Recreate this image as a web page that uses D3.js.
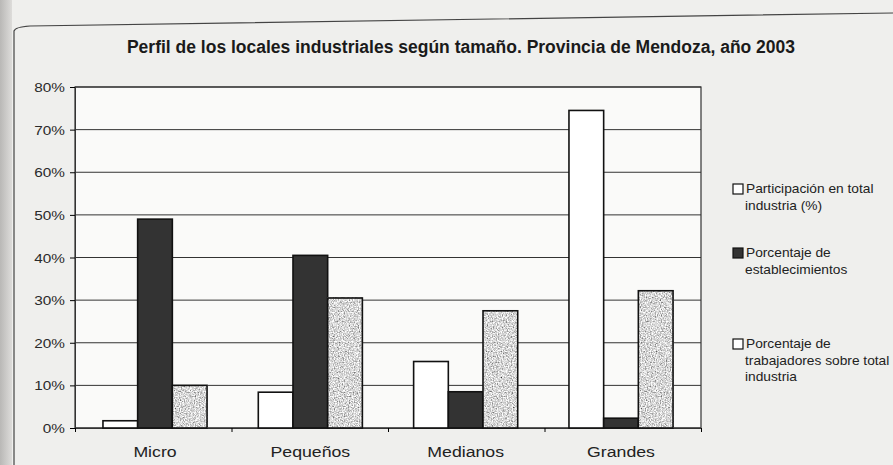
<!DOCTYPE html>
<html>
<head>
<meta charset="utf-8">
<script src="https://cdn.jsdelivr.net/npm/d3@7"></script>
<style>
  body { margin: 0; background: #efefed; }
  svg { display: block; font-family: "Liberation Sans", Arial, sans-serif; }
</style>
</head>
<body>
<div id="chart"></div>
<script>
// values
var categories = ["Micro", "Pequeños", "Medianos", "Grandes"];
var participacion = [1.7, 8.4, 15.6, 74.5];
var establecimientos = [49, 40.5, 8.5, 2.3];
var trabajadores = [10, 30.5, 27.5, 32.2];
var yTicks = [0, 10, 20, 30, 40, 50, 60, 70, 80];
var seriesNames = ["Participación en total|industria (%)", "Porcentaje de|establecimientos", "Porcentaje de|trabajadores sobre total|industria"];

var width = 893, height = 465;
var margin = {top: 87, left: 75, right: 192, bottom: 37};

var svg = d3.select("#chart").append("svg")
  .attr("width", width).attr("height", height);

var defs = svg.append("defs");
var f = defs.append("filter").attr("id", "speckle").attr("x", 0).attr("y", 0).attr("width", 1).attr("height", 1);
f.append("feTurbulence").attr("type", "fractalNoise").attr("baseFrequency", 0.8).attr("numOctaves", 2).attr("seed", 3).attr("result", "n");
f.append("feColorMatrix").attr("in", "n").attr("type", "matrix")
  .attr("values", "1.6 0 0 0 -0.12  1.6 0 0 0 -0.12  1.6 0 0 0 -0.12  0 0 0 0 1");

var edge = defs.append("linearGradient").attr("id", "edge");
edge.append("stop").attr("offset", 0).attr("stop-color", "#b9b8b6");
edge.append("stop").attr("offset", 1).attr("stop-color", "#dddcda");

// page edge and frame
svg.append("rect").attr("x", 0).attr("y", 0).attr("width", 12).attr("height", height).attr("fill", "url(#edge)");
svg.append("path").attr("d", "M14," + height + "L14,31Q15,27 30,26L" + width + ",13")
  .attr("fill", "none").attr("stroke", "#444").attr("stroke-width", 1.2);

svg.append("text")
  .attr("x", 461).attr("y", 53)
  .attr("text-anchor", "middle")
  .attr("font-size", 17.5).attr("font-weight", "bold")
  .attr("fill", "#1a1a1a")
  .text("Perfil de los locales industriales según tamaño. Provincia de Mendoza, año 2003");

var x0 = d3.scaleBand().domain(categories).range([margin.left, width - margin.right]).paddingInner(0.33).paddingOuter(0.18);
var x1 = d3.scaleBand().domain([0, 1, 2]).range([0, x0.bandwidth()]);
var y = d3.scaleLinear().domain([0, 80]).range([height - margin.bottom, margin.top]);

var g = svg.append("g");

// plot background and grid
g.append("rect")
  .attr("x", margin.left).attr("y", y(80))
  .attr("width", width - margin.right - margin.left).attr("height", y(0) - y(80))
  .attr("fill", "#fafaf9").attr("stroke", "#333").attr("stroke-width", 1.2);

g.selectAll(".grid").data(yTicks).join("line")
  .attr("x1", margin.left).attr("x2", width - margin.right)
  .attr("y1", function(d) { return y(d); }).attr("y2", function(d) { return y(d); })
  .attr("stroke", "#333").attr("stroke-width", 1);

var yAxis = g.append("g").attr("transform", "translate(" + margin.left + ",0)")
  .call(d3.axisLeft(y).tickValues(yTicks).tickSize(5).tickFormat(""));
yAxis.select(".domain").attr("stroke", "#333");

g.selectAll(".ylab").data(yTicks).join("text")
  .attr("transform", function(d) { return "translate(65," + (y(d) + 5) + ") scale(1.18,1)"; })
  .attr("text-anchor", "end").attr("font-size", 13).attr("fill", "#2a2a2a")
  .text(function(d) { return d + "%"; });

var xb = d3.scaleLinear().domain([0, 4]).range([margin.left, width - margin.right]);
var xAxis = g.append("g").attr("transform", "translate(0," + y(0) + ")")
  .call(d3.axisBottom(xb).ticks(4).tickSize(4).tickFormat(""));
xAxis.select(".domain").attr("stroke", "#333");

g.selectAll(".cat").data(categories).join("text")
  .attr("transform", function(d) { return "translate(" + (x0(d) + x0.bandwidth() / 2) + "," + (y(0) + 29) + ") scale(1.18,1)"; })
  .attr("text-anchor", "middle").attr("font-size", 15).attr("fill", "#222")
  .text(function(d) { return d; });

var fills = ["#ffffff", "#333333", "#bdbdbd"];
var series = [participacion, establecimientos, trabajadores];

var groups = g.selectAll(".grp").data(categories).join("g")
  .attr("transform", function(d) { return "translate(" + x0(d) + ",0)"; });

groups.each(function(cat, i) {
  var sel = d3.select(this);
  series.forEach(function(s, k) {
    var bar = { x: x1(k), y: y(s[i]), w: x1.bandwidth(), h: y(0) - y(s[i]) };
    if (k === 2) {
      sel.append("rect").attr("x", bar.x).attr("y", bar.y).attr("width", bar.w).attr("height", bar.h)
        .attr("filter", "url(#speckle)");
      sel.append("rect").attr("x", bar.x).attr("y", bar.y).attr("width", bar.w).attr("height", bar.h)
        .attr("fill", "none").attr("stroke", "#111").attr("stroke-width", 1.6);
    } else {
      sel.append("rect").attr("x", bar.x).attr("y", bar.y).attr("width", bar.w).attr("height", bar.h)
        .attr("fill", fills[k]).attr("stroke", "#111").attr("stroke-width", 1.6);
    }
  });
});

// legend
var legendY = [193, 257, 348];
var leg = svg.append("g");
seriesNames.forEach(function(name, k) {
  leg.append("rect")
    .attr("x", 733).attr("y", legendY[k] - 9).attr("width", 10).attr("height", 10)
    .attr("fill", k === 1 ? "#333" : "#fff").attr("stroke", "#111").attr("stroke-width", 1.2);
  name.split("|").forEach(function(line, j) {
    leg.append("text")
      .attr("transform", "translate(" + (j === 0 ? 746 : 745) + "," + (legendY[k] + j * 16.5) + ") scale(1.1,1)")
      .attr("font-size", 12.5).attr("fill", "#222")
      .text(line);
  });
});
</script>
</body>
</html>
